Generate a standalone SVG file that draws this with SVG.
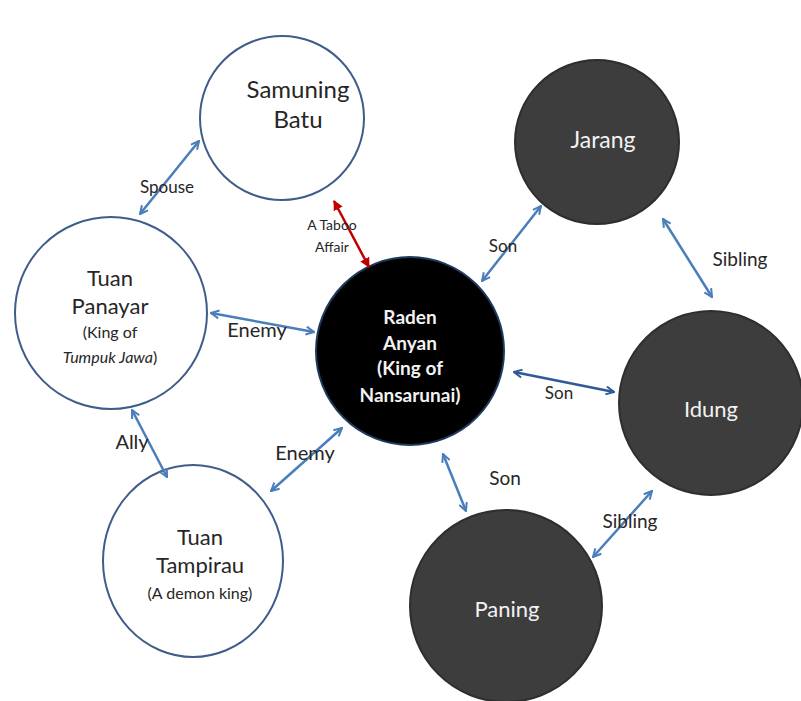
<svg xmlns="http://www.w3.org/2000/svg" width="801" height="701" viewBox="0 0 801 701">
<defs>
<marker id="ah" viewBox="0 0 10 10" refX="9" refY="5" markerWidth="4" markerHeight="4" orient="auto-start-reverse" markerUnits="strokeWidth">
<path d="M1,1 L9,5 L1,9" fill="none" stroke="#4a7ebb" stroke-width="2"/>
</marker>
<marker id="ahd" viewBox="0 0 10 10" refX="9" refY="5" markerWidth="4" markerHeight="4" orient="auto-start-reverse" markerUnits="strokeWidth">
<path d="M1,1 L9,5 L1,9" fill="none" stroke="#2f5a98" stroke-width="2"/>
</marker>
<marker id="ahr" viewBox="0 0 10 10" refX="9" refY="5" markerWidth="4" markerHeight="4" orient="auto-start-reverse" markerUnits="strokeWidth">
<path d="M0,0 L10,5 L0,10 Z" fill="#c00000"/>
</marker>
</defs>
<style>
.wn{fill:#fff;stroke:#3f5c8a;stroke-width:2}
.dn{fill:#3d3d3d;stroke:#2e2e2e;stroke-width:2}
.t{font-family:Lato,"Open Sans",sans-serif;text-anchor:middle;fill:#262626}
.tw{font-family:Lato,"Open Sans",sans-serif;text-anchor:middle;fill:#f2f2f2}
.c{fill:none;stroke:#4a7ebb;stroke-width:2.5;marker-start:url(#ah);marker-end:url(#ah)}
.lb{font-family:Lato,"Open Sans",sans-serif;text-anchor:middle;fill:#262626;font-size:19px}
</style>
<g id="samuning">
<circle class="wn" cx="282" cy="118" r="82"/>
<text class="t" x="298" y="98" font-size="24">Samuning</text>
<text class="t" x="298" y="128" font-size="24">Batu</text>
</g>
<g id="jarang">
<circle class="dn" cx="597" cy="142" r="82"/>
<text class="tw" x="603" y="148" font-size="23">Jarang</text>
</g>
<g id="panayar">
<circle class="wn" cx="111" cy="313" r="96"/>
<text class="t" x="110" y="286" font-size="22">Tuan</text>
<text class="t" x="110" y="314" font-size="22">Panayar</text>
<text class="t" x="110" y="338" font-size="16">(King of</text>
<text class="t" x="110" y="363" font-size="16"><tspan font-style="italic">Tumpuk Jawa</tspan>)</text>
</g>
<g id="raden">
<circle cx="410" cy="351" r="94" fill="#000" stroke="#1f3a5f" stroke-width="2"/>
<text class="tw" x="410" y="324" font-size="19" font-weight="bold">Raden</text>
<text class="tw" x="410" y="350" font-size="19" font-weight="bold">Anyan</text>
<text class="tw" x="410" y="375" font-size="19" font-weight="bold">(King of</text>
<text class="tw" x="410" y="402" font-size="19" font-weight="bold">Nansarunai)</text>
</g>
<g id="idung">
<circle class="dn" cx="711" cy="403" r="92"/>
<text class="tw" x="711" y="417" font-size="22">Idung</text>
</g>
<g id="tampirau">
<ellipse class="wn" cx="193" cy="561" rx="90" ry="96"/>
<text class="t" x="200" y="545" font-size="22">Tuan</text>
<text class="t" x="200" y="573" font-size="22">Tampirau</text>
<text class="t" x="200" y="599" font-size="16">(A demon king)</text>
</g>
<g id="paning">
<circle class="dn" cx="506" cy="606" r="96"/>
<text class="tw" x="507" y="617" font-size="22">Paning</text>
</g>
<g id="connectors">
<line class="c" x1="199" y1="141" x2="140" y2="214"/>
<line x1="334" y1="201" x2="369" y2="267" stroke="#c00000" stroke-width="2.5" marker-start="url(#ahr)" marker-end="url(#ahr)"/>
<line class="c" x1="541" y1="206" x2="482" y2="281"/>
<line class="c" x1="663" y1="219" x2="712" y2="297"/>
<line class="c" x1="211" y1="313" x2="314" y2="332"/>
<line x1="514" y1="372" x2="614" y2="392" stroke="#2f5a98" stroke-width="2.5" marker-start="url(#ahd)" marker-end="url(#ahd)"/>
<line class="c" x1="132" y1="410" x2="167" y2="477"/>
<line class="c" x1="342" y1="428" x2="271" y2="491"/>
<line class="c" x1="443" y1="454" x2="466" y2="511"/>
<line class="c" x1="652" y1="491" x2="593" y2="557"/>
<text class="lb" x="167" y="193" style="font-size:17px">Spouse</text>
<text class="lb" x="332" y="230" style="font-size:14px">A Taboo</text>
<text class="lb" x="332" y="252" style="font-size:14px">Affair</text>
<text class="lb" x="503" y="252" style="font-size:17px">Son</text>
<text class="lb" x="740" y="266">Sibling</text>
<text class="lb" x="257" y="337" style="font-size:20px">Enemy</text>
<text class="lb" x="559" y="399" style="font-size:17px">Son</text>
<text class="lb" x="132" y="449" style="font-size:20px">Ally</text>
<text class="lb" x="305" y="460" style="font-size:20px">Enemy</text>
<text class="lb" x="505" y="485">Son</text>
<text class="lb" x="630" y="528">Sibling</text>
</g>
</svg>
